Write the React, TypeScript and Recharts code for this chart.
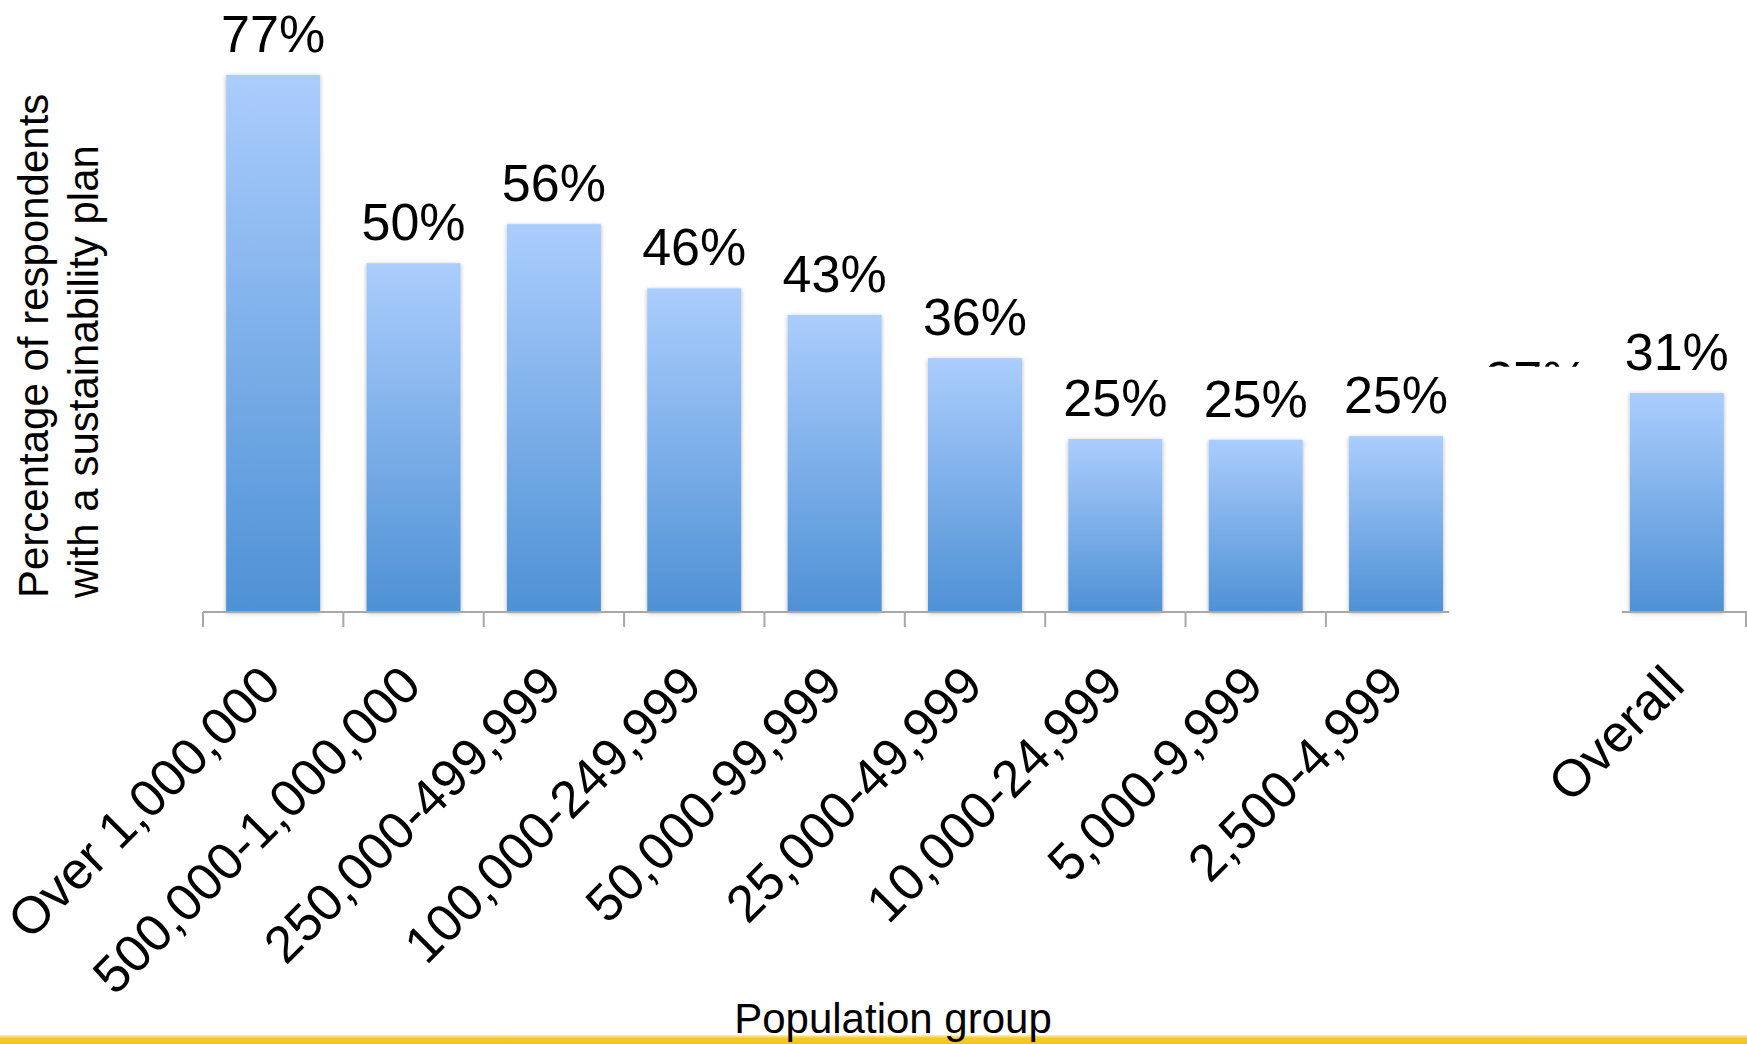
import { BarChart, Bar, XAxis, YAxis, LabelList } from 'recharts';

// population groups, left to right; the 10th column is blanked out on the source slide
const categories = [
  'Over 1,000,000',
  '500,000-1,000,000',
  '250,000-499,999',
  '100,000-249,999',
  '50,000-99,999',
  '25,000-49,999',
  '10,000-24,999',
  '5,000-9,999',
  '2,500-4,999',
  'Under 2,500',
  'Overall',
];
const shares = [77, 50, 55.6, 46.4, 42.6, 36.4, 24.8, 24.7, 25.2, 27.4, 31.4];
const coveredIndex = 9;
const yDomain = [0, 80];
const yTitleLines = ['Percentage of respondents', 'with a sustainability plan'];
const xTitle = 'Population group';

const FONT = '"Liberation Sans", Arial, Helvetica, sans-serif';
const GAP = 0.165;
const AXIS_GREY = '#a8a8a8';
const VALUE_SIZE = 52;

const chartData = categories.map((name, i) => ({ name, share: shares[i] }));

function ColumnShape(props: any) {
  const { x, y, width, height, index } = props;
  if (index === coveredIndex) return <g />;
  const side = (width * GAP) / (1 - 2 * GAP);
  const base = y + height;
  const left = index === coveredIndex + 1 ? x - 8 : x - side;
  const right = index === coveredIndex - 1 ? x + width + 6 : x + width + side;
  return (
    <g>
      <rect x={x} y={y} width={width} height={height} fill="url(#colFill)" filter="url(#colShadow)" />
      <line x1={left} x2={right} y1={base} y2={base} stroke={AXIS_GREY} strokeWidth={2} />
      {index !== coveredIndex + 1 && (
        <line x1={x - side} x2={x - side} y1={base} y2={base + 15} stroke={AXIS_GREY} strokeWidth={2} />
      )}
      {index === categories.length - 1 && (
        <line
          x1={x + width + side - 1}
          x2={x + width + side - 1}
          y1={base}
          y2={base + 15}
          stroke={AXIS_GREY}
          strokeWidth={2}
        />
      )}
    </g>
  );
}

function ValueLabel(props: any) {
  const vb = props.viewBox ?? props;
  const { x, y, width } = vb;
  const { value, index } = props;
  const cx = x + width / 2;
  const baseline = y - 23;
  const text = (
    <text x={cx} y={baseline} textAnchor="middle" fontSize={VALUE_SIZE} fontFamily={FONT} fill="#000">
      {`${Math.round(value)}%`}
    </text>
  );
  if (index === coveredIndex) {
    // only the top sliver of this label shows above the white cover
    const capTop = baseline - VALUE_SIZE * 0.716;
    return (
      <g>
        <clipPath id="coverClip">
          <rect x={cx - 80} y={capTop - 10} width={160} height={16} />
        </clipPath>
        <g clipPath="url(#coverClip)">{text}</g>
      </g>
    );
  }
  return text;
}

function CategoryTick(props: any) {
  const { x, y, payload } = props;
  const idx = props.index ?? payload.index ?? categories.indexOf(payload.value);
  if (idx === coveredIndex) return <g />;
  const px = x + 10;
  const py = y + 76;
  return (
    <text
      x={px}
      y={py}
      textAnchor="end"
      transform={`rotate(-45 ${px} ${py})`}
      fontSize={52}
      fontFamily={FONT}
      fill="#000"
    >
      {payload.value}
    </text>
  );
}

function YTitle(props: any) {
  const { viewBox } = props;
  const bx = viewBox.x + 48;
  const by = viewBox.y + viewBox.height - 14;
  return (
    <text
      transform={`translate(${bx} ${by}) rotate(-90)`}
      textAnchor="start"
      fontSize={42}
      fontFamily={FONT}
      fill="#000"
    >
      {yTitleLines.map((line, i) => (
        <tspan key={line} x={0} dy={i === 0 ? 0 : 50}>
          {line}
        </tspan>
      ))}
    </text>
  );
}

function XTitle(props: any) {
  const { viewBox } = props;
  return (
    <text
      x={viewBox.x + viewBox.width / 2 - 82}
      y={viewBox.y + viewBox.height - 11}
      textAnchor="middle"
      fontSize={42}
      fontFamily={FONT}
      fill="#000"
    >
      {xTitle}
    </text>
  );
}

export default function App() {
  return (
    <div style={{ position: 'absolute', left: 0, top: 0, width: 1747, height: 1044, background: '#fff' }}>
      <div
        style={{
          position: 'absolute',
          left: 0,
          top: 1035,
          width: 1747,
          height: 9,
          background: 'linear-gradient(#fdf2c4 0%, #f4ca2a 35%, #f2c51c 100%)',
        }}
      />
      <div style={{ position: 'absolute', left: 0, top: 0 }}>
        <BarChart
          width={1747}
          height={1044}
          data={chartData}
          margin={{ top: 54, right: 0, bottom: 0, left: 0 }}
          barCategoryGap={`${GAP * 100}%`}
        >
          <defs>
            <linearGradient id="colFill" x1="0" y1="0" x2="0" y2="1">
              <stop offset="0%" stopColor="#abcdfd" />
              <stop offset="100%" stopColor="#4e91d5" />
            </linearGradient>
            <filter id="colShadow" x="-20%" y="-5%" width="140%" height="110%">
              <feDropShadow dx="0" dy="1" stdDeviation="2" floodColor="#000" floodOpacity="0.3" />
            </filter>
          </defs>
          <XAxis
            dataKey="name"
            interval={0}
            axisLine={false}
            tickLine={false}
            tickSize={0}
            tickMargin={0}
            height={432}
            tick={(p: any) => <CategoryTick {...p} />}
            label={{ content: (p: any) => <XTitle {...p} /> }}
          />
          <YAxis
            type="number"
            domain={yDomain}
            width={203}
            axisLine={false}
            tickLine={false}
            tick={false}
            label={{ content: (p: any) => <YTitle {...p} /> }}
          />
          <Bar dataKey="share" isAnimationActive={false} shape={(p: any) => <ColumnShape {...p} />}>
            <LabelList dataKey="share" position="top" content={(p: any) => <ValueLabel {...p} />} />
          </Bar>
        </BarChart>
      </div>
    </div>
  );
}
